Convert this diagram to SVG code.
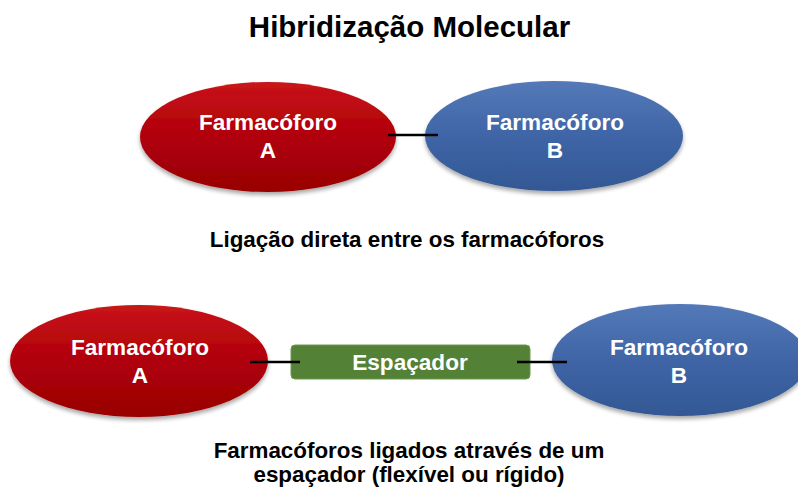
<svg xmlns="http://www.w3.org/2000/svg" width="798" height="489" viewBox="0 0 798 489">
<defs>
<linearGradient id="gRed" x1="0" y1="0" x2="0" y2="1">
<stop offset="0" stop-color="#c8141a"/>
<stop offset="0.5" stop-color="#b00008"/>
<stop offset="1" stop-color="#980005"/>
</linearGradient>
<linearGradient id="gBlue" x1="0" y1="0" x2="0" y2="1">
<stop offset="0" stop-color="#5479b8"/>
<stop offset="0.5" stop-color="#3f65a6"/>
<stop offset="1" stop-color="#335894"/>
</linearGradient>
<filter id="sh" x="-10%" y="-10%" width="120%" height="130%">
<feGaussianBlur in="SourceAlpha" stdDeviation="2"/>
<feOffset dx="0" dy="3" result="b"/>
<feComponentTransfer><feFuncA type="linear" slope="0.35"/></feComponentTransfer>
<feMerge><feMergeNode/><feMergeNode in="SourceGraphic"/></feMerge>
</filter>
</defs>
<style>
.t{font-family:"Liberation Sans",Arial,sans-serif;font-weight:bold;text-anchor:middle}
.cap{fill:#000;font-size:22.4px}
.nl{fill:#fff;font-size:22.6px}
.red{fill:url(#gRed);filter:url(#sh)}
.blue{fill:url(#gBlue);filter:url(#sh)}
.ln{stroke:#000;stroke-width:2.5;fill:none}
</style>
<rect width="798" height="489" fill="#fff"/>
<text class="t" x="409.5" y="37" font-size="29.5">Hibridização Molecular</text>

<g id="top-A">
<ellipse class="red" cx="268" cy="137" rx="128" ry="55"/>
<text class="t nl" x="268" y="130">Farmacóforo</text>
<text class="t nl" x="268" y="158">A</text>
</g>
<g id="top-B">
<ellipse class="blue" cx="554" cy="136" rx="129" ry="55"/>
<text class="t nl" x="555" y="130">Farmacóforo</text>
<text class="t nl" x="555" y="158">B</text>
</g>
<text class="t cap" x="407" y="247">Ligação direta entre os farmacóforos</text>

<g id="bot-A">
<ellipse class="red" cx="139" cy="361" rx="129" ry="56"/>
<text class="t nl" x="140" y="355">Farmacóforo</text>
<text class="t nl" x="140" y="383">A</text>
</g>
<g id="spacer">
<rect x="291" y="345" width="239" height="34" rx="4" fill="#538135" stroke="#6f9a4f" stroke-width="1"/>
<text class="t nl" x="410" y="370">Espaçador</text>
</g>
<g id="bot-B">
<ellipse class="blue" cx="680" cy="360" rx="128" ry="56"/>
<text class="t nl" x="679" y="355">Farmacóforo</text>
<text class="t nl" x="679" y="383">B</text>
</g>
<text class="t cap" x="409" y="458">Farmacóforos ligados através de um</text>
<text class="t cap" x="409" y="482">espaçador (flexível ou rígido)</text>

<g id="connectors">
<line class="ln" x1="388" y1="135" x2="438" y2="135"/>
<line class="ln" x1="250" y1="362" x2="300" y2="362"/>
<line class="ln" x1="517" y1="362" x2="567" y2="362"/>
</g>
</svg>
